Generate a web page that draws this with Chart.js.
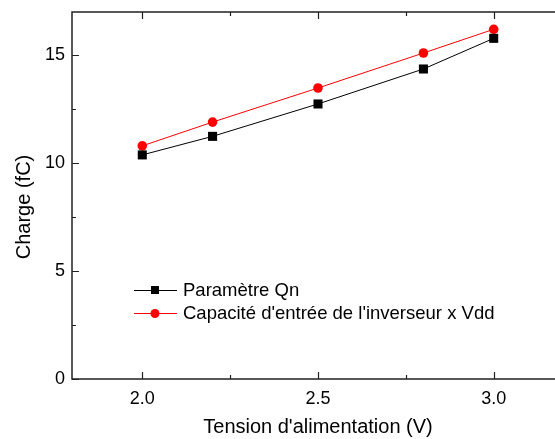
<!DOCTYPE html>
<html>
<head>
<meta charset="utf-8">
<script src="https://cdn.jsdelivr.net/npm/chart.js@4.4.0/dist/chart.umd.min.js"></script>
<style>
  html, body { margin: 0; padding: 0; background: #fff; overflow: hidden; }
  #wrap { width: 555px; height: 439px; overflow: hidden; }
</style>
</head>
<body>
<div id="wrap"><canvas id="chart" width="564" height="439"></canvas></div>
<script>
// valeurs
const tensions = [2.0, 2.2, 2.5, 2.8, 3.0];
const chargeQn = [10.38, 11.24, 12.74, 14.36, 15.78];
const chargeCapa = [10.80, 11.90, 13.48, 15.10, 16.20];
const xTicks = [2.0, 2.5, 3.0];
const xMinorTicks = [2.25, 2.75];
const yTicks = [0, 5, 10, 15];
const yMinorTicks = [2.5, 7.5, 12.5];

const FONT = "'Liberation Sans', Arial, sans-serif";

function toPoints(ys) {
    return tensions.map((x, i) => ({ x: x, y: ys[i] }));
}

// cadre (gauche, bas, haut) + graduations vers l'intérieur + titre Y + légende
const framePlugin = {
    id: 'frame',
    afterDraw(chart) {
        const ctx = chart.ctx;
        const area = chart.chartArea;
        const xs = chart.scales.x;
        const ys = chart.scales.y;
        ctx.save();
        ctx.strokeStyle = '#222';
        ctx.lineWidth = 1.5;
        ctx.beginPath();
        ctx.moveTo(area.right, area.top);
        ctx.lineTo(area.left, area.top);
        ctx.lineTo(area.left, area.bottom);
        ctx.lineTo(area.right, area.bottom);
        ctx.stroke();

        ctx.lineWidth = 1.2;
        ctx.beginPath();
        xTicks.forEach(v => {
            const px = Math.round(xs.getPixelForValue(v)) + 0.5;
            ctx.moveTo(px, area.bottom); ctx.lineTo(px, area.bottom - 7);
            ctx.moveTo(px, area.top); ctx.lineTo(px, area.top + 7);
        });
        xMinorTicks.forEach(v => {
            const px = Math.round(xs.getPixelForValue(v)) + 0.5;
            ctx.moveTo(px, area.bottom); ctx.lineTo(px, area.bottom - 4);
            ctx.moveTo(px, area.top); ctx.lineTo(px, area.top + 4);
        });
        yTicks.forEach(v => {
            const py = Math.round(ys.getPixelForValue(v)) + 0.5;
            ctx.moveTo(area.left, py); ctx.lineTo(area.left + 7, py);
        });
        yMinorTicks.forEach(v => {
            const py = Math.round(ys.getPixelForValue(v)) + 0.5;
            ctx.moveTo(area.left, py); ctx.lineTo(area.left + 4, py);
        });
        ctx.stroke();

        // titre de l'axe Y
        ctx.save();
        ctx.translate(24, 207);
        ctx.rotate(-Math.PI / 2);
        ctx.font = '20px ' + FONT;
        ctx.fillStyle = '#000';
        ctx.textAlign = 'center';
        ctx.textBaseline = 'middle';
        ctx.fillText('Charge (fC)', 0, 0);
        ctx.restore();

        // légende
        const x0 = 134, x1 = 177, xm = 155, xt = 183;
        const rows = [290, 313];
        ctx.font = '18.5px ' + FONT;
        ctx.textBaseline = 'middle';
        ctx.textAlign = 'left';
        chart.data.datasets.forEach((ds, i) => {
            const y = rows[i];
            ctx.strokeStyle = ds.borderColor;
            ctx.lineWidth = 1;
            ctx.beginPath();
            ctx.moveTo(x0, y + 0.5); ctx.lineTo(x1, y + 0.5);
            ctx.stroke();
            ctx.fillStyle = ds.pointBackgroundColor;
            if (ds.pointStyle === 'rect') {
                ctx.fillRect(xm - 4, y - 4, 8, 8);
            } else {
                ctx.beginPath();
                ctx.arc(xm, y + 0.5, 4.5, 0, Math.PI * 2);
                ctx.fill();
            }
            ctx.fillStyle = '#000';
            ctx.fillText(ds.label, xt, y + 1);
        });
        ctx.restore();
    }
};

new Chart(document.getElementById('chart'), {
    type: 'scatter',
    data: {
        datasets: [
            {
                label: 'Paramètre Qn',
                data: toPoints(chargeQn),
                showLine: true,
                borderColor: '#000',
                borderWidth: 1,
                pointStyle: 'rect',
                pointRadius: 6.4,
                pointBackgroundColor: '#000',
                pointBorderColor: '#000',
                pointBorderWidth: 0
            },
            {
                label: "Capacité d'entrée de l'inverseur x Vdd",
                data: toPoints(chargeCapa),
                showLine: true,
                borderColor: '#ff0000',
                borderWidth: 1,
                pointStyle: 'circle',
                pointRadius: 4.8,
                pointBackgroundColor: '#ff0000',
                pointBorderColor: '#ff0000',
                pointBorderWidth: 0
            }
        ]
    },
    options: {
        responsive: false,
        animation: false,
        layout: { autoPadding: false, padding: { top: 12, right: 0, left: 0, bottom: 0 } },
        plugins: {
            legend: { display: false },
            tooltip: { enabled: false }
        },
        scales: {
            x: {
                type: 'linear',
                min: 1.8,
                max: 3.2,
                afterBuildTicks: axis => { axis.ticks = xTicks.map(v => ({ value: v })); },
                afterFit: axis => {
                    axis.height = 60;
                    axis.paddingLeft = 0;
                    axis.paddingRight = 0;
                },
                grid: { display: false, drawTicks: false },
                border: { display: false },
                ticks: {
                    color: '#000',
                    padding: 9,
                    font: { family: FONT, size: 18 },
                    callback: v => v.toFixed(1)
                },
                title: {
                    display: true,
                    text: "Tension d'alimentation (V)",
                    color: '#000',
                    font: { family: FONT, size: 20 },
                    padding: { top: 0, bottom: 0 }
                }
            },
            y: {
                min: 0,
                max: 17,
                afterBuildTicks: axis => { axis.ticks = yTicks.map(v => ({ value: v })); },
                afterFit: axis => {
                    axis.width = 72;
                    axis.paddingTop = 0;
                    axis.paddingBottom = 0;
                },
                grid: { display: false, drawTicks: false },
                border: { display: false },
                ticks: {
                    color: '#000',
                    padding: 7,
                    font: { family: FONT, size: 18 }
                }
            }
        }
    },
    plugins: [framePlugin]
});
</script>
</body>
</html>
